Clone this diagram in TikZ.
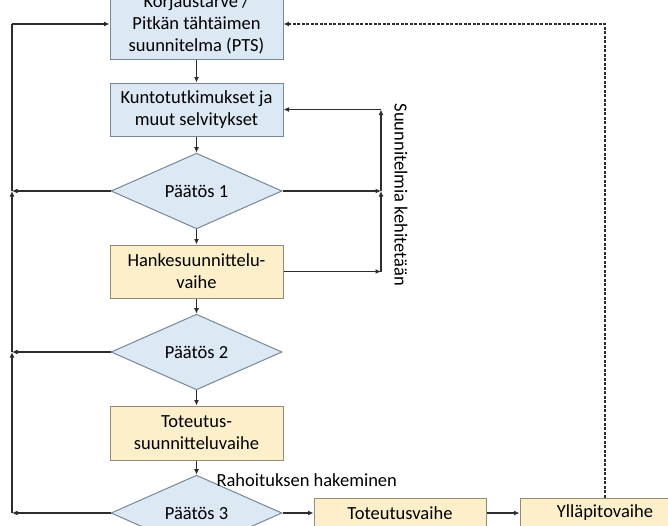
\documentclass[tikz,border=0pt]{standalone}
\usepackage{fontspec}
\setmainfont{Carlito}
\usetikzlibrary{shapes.geometric,arrows.meta}
\definecolor{sininen}{RGB}{220,232,244}
\definecolor{sinireuna}{RGB}{120,135,152}
\definecolor{keltainen}{RGB}{252,239,202}
\definecolor{keltareuna}{RGB}{150,138,115}
\definecolor{viiva}{RGB}{45,45,45}
\tikzset{
  laatikko/.style={draw=sinireuna, fill=sininen, line width=1pt, minimum width=173pt, minimum height=53pt, align=center, inner sep=2pt},
  vaihe/.style={laatikko, draw=keltareuna, fill=keltainen},
  paatos/.style={diamond, draw=sinireuna, fill=sininen, line width=1pt, minimum width=171pt, minimum height=61pt, inner sep=0pt},
  nuoli/.style={draw=viiva, line width=1.4pt, -{Latex[length=5.5pt,width=5pt]}},
  viiva/.style={draw=viiva, line width=1.4pt}
}
\begin{document}
\begin{tikzpicture}[x=1pt, y=-1pt, font=\fontsize{18.5}{22}\selectfont]
\useasboundingbox (0,0) rectangle (668,525);
\clip (0,0) rectangle (668,525);
% Laatikot ja paatokset
\node[laatikko, minimum height=70pt] (pts) at (196.5,24) {Korjaustarve /\\Pitkän tähtäimen\\suunnitelma (PTS)};
\node[laatikko] (kunto) at (196.5,109.5) {Kuntotutkimukset ja\\muut selvitykset};
\node[paatos] (p1) at (196.5,191) {Päätös 1};
\node[vaihe] (hanke) at (196.5,271.5) {Hankesuunnittelu-\\vaihe};
\node[paatos] (p2) at (196.5,352) {Päätös 2};
\node[vaihe, minimum height=54pt] (totsu) at (196.5,433) {Toteutus-\\suunnitteluvaihe};
\node[paatos, minimum height=58pt] (p3) at (196.5,513) {Päätös 3};
\node[vaihe, minimum width=172pt, minimum height=30pt] (tot) at (400,513) {Toteutusvaihe};
\node[vaihe, minimum width=170pt, minimum height=30pt] (yll) at (605,513) {Ylläpitovaihe};

\node[anchor=west] (rahoitus) at (213,480) {Rahoituksen hakeminen};
\node[rotate=-90] (kehitys) at (401,195) {Suunnitelmia kehitetään};

% Paavirta
\draw[nuoli] (pts) -- (kunto);
\draw[nuoli] (kunto) -- (p1);
\draw[nuoli] (p1) -- (hanke);
\draw[nuoli] (hanke) -- (p2);
\draw[nuoli] (p2) -- (totsu);
\draw[nuoli] (totsu) -- (p3);
\draw[nuoli] (p3.east) -- (tot.west);
\draw[nuoli] (tot.east) -- (yll.west);

% Vasen paluu
\coordinate (va) at (12,513);
\coordinate (vy) at (12,24);
\draw[nuoli] (p3.west) -- (va);
\draw[nuoli] (p2.west) -- (p2.west -| va);
\draw[nuoli] (p1.west) -- (p1.west -| va);
\draw[nuoli] (va) -- (p2.west -| va);
\draw[nuoli] (p2.west -| va) -- (p1.west -| va);
\draw[viiva] (p1.west -| va) -- (vy);
\draw[nuoli] (vy) -- (pts.west);

% Oikea silmukka
\coordinate (oa) at (381,271.5);
\coordinate (oy) at (381,109.5);
\draw[nuoli] (p1.east) -- (p1.east -| oa);
\draw[nuoli] (hanke.east) -- (oa);
\draw[nuoli] (oa) -- (p1.east -| oa);
\draw[nuoli] (p1.east -| oa) -- (oy);
\draw[nuoli] (oy) -- (kunto.east);

% Katkoviiva yllapidosta
\draw[nuoli, dash pattern=on 3pt off 1.5pt] (yll.north) |- (pts.east);
\end{tikzpicture}
\end{document}
